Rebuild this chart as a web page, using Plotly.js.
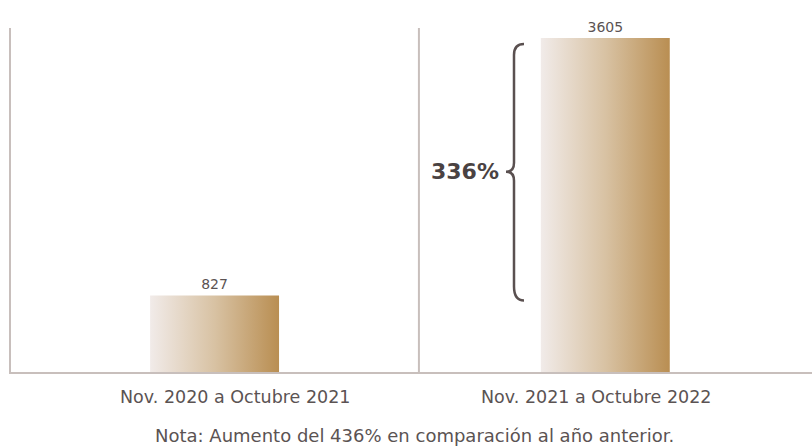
<!DOCTYPE html>
<html>
<head>
<meta charset="utf-8">
<script src="https://cdn.plot.ly/plotly-3.0.1.min.js"></script>
<style>html,body{margin:0;padding:0;background:#fff;}#chart{width:812px;height:447px;}</style>
</head>
<body>
<div id="chart"></div>
<script>
const categories = ["Nov. 2020 a Octubre 2021", "Nov. 2021 a Octubre 2022"];
const values = [827, 3605];
const valueLabels = ["827", "3605"];
const increaseLabel = "336%";
const noteText = "Nota: Aumento del 436% en comparación al año anterior.";

const W = 812, H = 447, ML = 11, MR = 0, MT = 28, MB = 75;
const plotW = W - ML - MR;
const yMax = 3713;
const pxToPaperX = px => (px - ML) / plotW;
const pxToPaperY = py => (H - MB - py) / (H - MT - MB);
const unitsPerPx = yMax / (H - MT - MB);
const FONT = "DejaVu Sans, sans-serif";

// brace geometry: spans from value[0] to value[1]
const lo = values[0], hi = values[1];
const xs = pxToPaperX(514), xe = pxToPaperX(524), xt = pxToPaperX(506);
const c = 14 * unitsPerPx, t = 9 * unitsPerPx;
const mid = (lo + hi) / 2 - 5 * unitsPerPx;
const bracePath =
  `M ${xe},${hi - 6*unitsPerPx} Q ${xs},${hi - 6*unitsPerPx} ${xs},${hi - 3*unitsPerPx - c}` +
  ` L ${xs},${mid + t} Q ${xs},${mid} ${xt},${mid}` +
  ` Q ${xs},${mid} ${xs},${mid - t}` +
  ` L ${xs},${lo + c - 5*unitsPerPx} Q ${xs},${lo - 5*unitsPerPx} ${xe},${lo - 5*unitsPerPx}`;

const textColor = "#5b5353";
const lineColor = "#c8bfbc";

const trace = {
  type: "bar",
  x: categories,
  y: values,
  text: valueLabels,
  textposition: "outside",
  cliponaxis: false,
  width: 0.33,
  marker: {color: "#d2b68c", line: {width: 0}},
  textfont: {family: FONT, size: 14, color: textColor},
  hoverinfo: "skip"
};

const layout = {
  width: W, height: H,
  margin: {l: ML, r: MR, t: MT, b: MB},
  paper_bgcolor: "#ffffff",
  plot_bgcolor: "#ffffff",
  showlegend: false,
  xaxis: {
    type: "category",
    range: [-0.521, 1.529],
    showgrid: false, zeroline: false,
    showline: true, linecolor: lineColor, linewidth: 2,
    showticklabels: false, ticks: ""
  },
  yaxis: {
    range: [0, yMax],
    showgrid: false, zeroline: false,
    showline: true, linecolor: lineColor, linewidth: 2,
    showticklabels: false, ticks: ""
  },
  shapes: [
    {type: "line", xref: "x", yref: "paper", x0: 0.523, x1: 0.523, y0: 0, y1: 1,
     line: {color: lineColor, width: 2}},
    {type: "path", xref: "paper", yref: "y", path: bracePath,
     line: {color: "#5a5050", width: 2.5}}
  ],
  annotations: [
    {xref: "x", yref: "paper", x: categories[0], y: pxToPaperY(397), xshift: 20,
     xanchor: "center", yanchor: "middle", text: categories[0], showarrow: false,
     font: {family: FONT, size: 17.5, color: textColor}},
    {xref: "x", yref: "paper", x: categories[1], y: pxToPaperY(397), xshift: -9,
     xanchor: "center", yanchor: "middle", text: categories[1], showarrow: false,
     font: {family: FONT, size: 17.5, color: textColor}},
    {xref: "paper", yref: "y", x: pxToPaperX(501), y: mid, xanchor: "right", yanchor: "middle",
     text: "<b>" + increaseLabel + "</b>", showarrow: false,
     font: {family: FONT, size: 22, color: "#4a4242"}},
    {xref: "paper", yref: "paper", x: pxToPaperX(414), y: pxToPaperY(435), xanchor: "center", yanchor: "middle",
     text: noteText, showarrow: false,
     font: {family: FONT, size: 18, color: textColor}}
  ]
};

Plotly.newPlot("chart", [trace], layout, {displayModeBar: false, staticPlot: true}).then(gd => {
  const svg = gd.querySelector(".main-svg");
  let defs = svg.querySelector("defs");
  const ns = "http://www.w3.org/2000/svg";
  const grad = document.createElementNS(ns, "linearGradient");
  grad.setAttribute("id", "barGrad");
  grad.setAttribute("x1", "0"); grad.setAttribute("x2", "1");
  grad.setAttribute("y1", "0"); grad.setAttribute("y2", "0");
  [["0", "#f1ebe9"], ["0.5", "#d8c2a3"], ["1", "#b98e52"]].forEach(([o, col]) => {
    const s = document.createElementNS(ns, "stop");
    s.setAttribute("offset", o); s.setAttribute("stop-color", col);
    grad.appendChild(s);
  });
  defs.appendChild(grad);
  gd.querySelectorAll(".barlayer .point path").forEach(p => { p.style.fill = "url(#barGrad)"; });
});
</script>
</body>
</html>
